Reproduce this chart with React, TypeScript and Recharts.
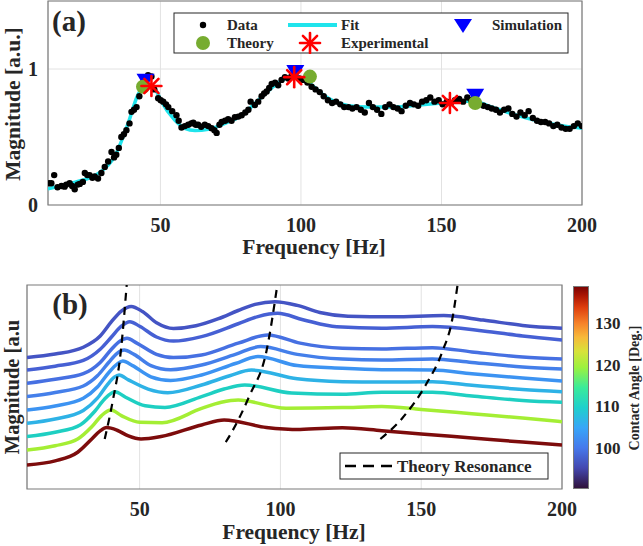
import React from "react";
import {
  ComposedChart,
  LineChart,
  Line,
  Scatter,
  XAxis,
  YAxis,
  CartesianGrid,
  ReferenceArea,
} from "recharts";

const FONT = "'Liberation Serif', 'Times New Roman', serif";
const INK = "#262626";
const BOX = "#7a7a7a";
const GRID = "#e2e2e2";

const freqTicks = [50, 100, 150, 200];

// ---- panel (a): measured spectrum ----
const dataFreq = [
  10.4, 11.2, 12.2, 13.4, 14.8, 15.9, 16.5, 17.7, 18.6, 19.5, 20.6, 21.3, 22.4, 23.1, 24.0, 24.8,
  25.8, 26.6, 27.8, 29.0, 30.2, 31.4, 32.6, 33.5, 34.3, 35.2, 36.1, 37.0, 37.9, 39.0, 39.7, 40.6,
  41.5, 42.5, 43.8, 44.7, 45.6, 46.8, 47.8, 49.2, 50.1, 51.0, 52.0, 52.8, 54.2, 55.7, 56.5, 57.5,
  58.7, 59.9, 61.0, 61.7, 62.6, 63.4, 64.5, 65.8, 67.0, 68.2, 69.2, 70.0, 71.0, 71.8, 73.0, 74.1,
  75.3, 76.5, 77.7, 78.9, 80.2, 81.3, 82.1, 83.6, 84.8, 86.0, 86.9, 87.8, 88.7, 89.6, 90.8, 91.9,
  93.1, 94.3, 95.5, 96.7, 97.9, 99.4, 100.8, 102.3, 103.8, 105.2, 106.7, 108.1, 109.6, 111.1, 112.5,
  114.0, 115.4, 116.9, 118.3, 119.8, 121.3, 122.7, 124.2, 125.6, 127.1, 128.6, 130.0, 131.5, 132.9,
  134.4, 135.8, 137.3, 138.8, 140.2, 141.7, 143.1, 144.6, 146.0, 147.5, 149.0, 150.4, 151.9, 153.3,
  154.8, 156.3, 157.7, 159.2, 160.6, 163.5, 165.0, 166.5, 167.9, 169.4, 170.8, 172.3, 173.8, 175.2,
  176.7, 178.1, 179.6, 181.0, 182.5, 184.0, 185.4, 186.9, 188.3, 189.8, 191.2, 192.7, 194.2, 195.6,
  197.1, 198.5, 200.0,
];
const dataMag = [
  0.16, 0.16, 0.22, 0.13, 0.14, 0.135, 0.15, 0.16, 0.14, 0.115, 0.15, 0.155, 0.17, 0.235, 0.22, 0.22,
  0.2, 0.21, 0.195, 0.235, 0.28, 0.32, 0.39, 0.35, 0.37, 0.42, 0.5, 0.52, 0.55, 0.6, 0.685, 0.7,
  0.72, 0.8, 0.9, 0.93, 0.955, 0.945, 0.85, 0.785, 0.77, 0.76, 0.74, 0.72, 0.69, 0.66, 0.62, 0.57,
  0.58, 0.59, 0.6, 0.605, 0.59, 0.59, 0.575, 0.59, 0.58, 0.565, 0.55, 0.53, 0.59, 0.61, 0.62, 0.63,
  0.62, 0.645, 0.65, 0.66, 0.68, 0.7, 0.76, 0.735, 0.76, 0.8, 0.82, 0.835, 0.86, 0.89, 0.9, 0.88,
  0.92, 0.94, 0.93, 0.95, 0.97, 0.93, 0.92, 0.9, 0.87, 0.85, 0.83, 0.8, 0.77, 0.75, 0.76,
  0.74, 0.72, 0.72, 0.71, 0.72, 0.7, 0.68, 0.75, 0.72, 0.7, 0.67, 0.72, 0.74, 0.72,
  0.71, 0.69, 0.73, 0.75, 0.74, 0.73, 0.76, 0.77, 0.79, 0.76, 0.77, 0.74, 0.76, 0.75,
  0.77, 0.78, 0.76, 0.79, 0.77, 0.74, 0.73, 0.72, 0.71, 0.7, 0.68, 0.7, 0.71, 0.67,
  0.65, 0.68, 0.66, 0.69, 0.64, 0.62, 0.61, 0.61, 0.6, 0.58, 0.59, 0.57, 0.56, 0.56,
  0.58, 0.6, 0.58,
];
const fitFreq = [
  10, 20, 27.8, 33.8, 38.5, 42, 44.4, 46.5, 48.5, 50.4, 55.1, 58.7, 62.3, 67, 73, 78.9, 84.8, 90.8,
  95.5, 99, 104, 108, 112, 117, 124, 133, 142, 150, 157, 162, 168, 176, 185, 194, 200,
];
const fitMag = [
  0.12, 0.17, 0.23, 0.36, 0.6, 0.81, 0.87, 0.88, 0.84, 0.76, 0.625, 0.564, 0.547, 0.556, 0.6, 0.66,
  0.77, 0.88, 0.935, 0.94, 0.88, 0.81, 0.76, 0.73, 0.72, 0.72, 0.735, 0.75, 0.765, 0.76, 0.72, 0.665,
  0.615, 0.58, 0.565,
];
const theoryFreq = [43.8, 103.2, 162];
const theoryMag = [0.87, 0.944, 0.75];
const expFreq = [46.8, 97.6, 153];
const expMag = [0.875, 0.94, 0.75];
const simFreq = [44.7, 98, 162];
const simMag = [0.91, 0.975, 0.8];

// ---- panel (b): simulated spectra vs contact angle ----
const angles = [96, 97, 99, 101, 103, 106, 110, 119, 138];
const curveColors = [
  "#4454c4", "#4660d4", "#4670e2", "#447fea", "#3c93f2", "#2eb2e6", "#1ecfc2", "#a4ee34", "#7d0c0c",
];
const curve96 = [
  [10, 6.45], [20, 6.62], [30, 6.95], [36, 7.5], [40, 8.2], [43.5, 8.72], [47, 8.95], [51, 8.7],
  [56, 8.15], [62, 7.87], [70, 8.0], [78, 8.35], [85, 8.75], [91, 9.05], [98, 9.18], [106, 9.0],
  [114, 8.65], [124, 8.47], [140, 8.44], [158, 8.5], [172, 8.28], [186, 8.02], [200, 7.88],
];
const curve97 = [
  [10, 5.83], [20, 6.02], [30, 6.3], [36, 6.85], [40, 7.45], [43.5, 7.98], [46.5, 8.2], [50, 7.98],
  [56, 7.45], [62, 7.25], [72, 7.47], [85, 8.1], [92, 8.45], [99, 8.61], [108, 8.3], [120, 7.95],
  [136, 7.88], [154, 7.96], [172, 7.75], [186, 7.5], [200, 7.3],
];
const curve99 = [
  [10, 5.18], [20, 5.38], [30, 5.65], [36, 6.2], [40, 6.85], [43, 7.25], [45.5, 7.39], [49, 7.15],
  [56, 6.6], [62, 6.44], [72, 6.57], [85, 7.15], [95.5, 7.55], [107, 7.15], [122, 6.9], [136, 6.86],
  [154, 6.93], [168, 6.72], [186, 6.47], [200, 6.37],
];
const curve101 = [
  [10, 4.53], [20, 4.73], [30, 5.05], [35, 5.55], [39, 6.2], [42, 6.65], [44.5, 6.81], [48, 6.6],
  [54, 6.05], [61, 5.85], [72, 6.08], [84, 6.6], [93, 6.98], [106, 6.6], [122, 6.37], [136, 6.32],
  [154, 6.37], [168, 6.2], [186, 5.98], [200, 5.88],
];
const curve103 = [
  [10, 3.87], [20, 4.07], [30, 4.45], [35, 5.0], [39, 5.7], [42, 6.12], [44, 6.27], [47.5, 6.05],
  [54, 5.5], [61, 5.32], [72, 5.59], [84, 6.15], [92, 6.49], [106, 6.05], [122, 5.92], [136, 5.85],
  [154, 5.83], [168, 5.65], [186, 5.44], [200, 5.29],
];
const curve106 = [
  [10, 3.22], [20, 3.43], [30, 3.85], [35, 4.45], [38.5, 5.1], [41, 5.48], [42.7, 5.59], [46, 5.35],
  [53, 4.9], [60, 4.72], [72, 5.1], [82, 5.55], [89.7, 5.83], [106, 5.4], [122, 5.26], [136, 5.24],
  [154, 5.26], [168, 5.08], [186, 4.88], [200, 4.77],
];
const curve110 = [
  [10, 2.57], [20, 2.78], [29, 3.15], [34, 3.8], [37.5, 4.4], [41.2, 4.77], [45, 4.5], [52, 4.08],
  [59, 4.0], [72, 4.53], [80, 4.9], [87.3, 5.1], [104, 4.7], [122, 4.64], [136, 4.74], [154, 4.74],
  [168, 4.56], [186, 4.34], [200, 4.25],
];
const curve119 = [
  [10, 1.91], [20, 2.12], [28, 2.45], [33, 3.05], [36.5, 3.6], [39.8, 3.87], [43.5, 3.6], [50, 3.27],
  [58, 3.25], [72, 3.95], [79, 4.25], [85, 4.36], [102, 3.96], [122, 3.99], [136, 4.04], [150, 3.9],
  [168, 3.69], [186, 3.48], [200, 3.3],
];
const curve138 = [
  [10, 1.18], [20, 1.38], [28, 1.8], [33, 2.45], [36, 2.85], [38.3, 3.01], [42, 2.88], [46, 2.6],
  [50.5, 2.45], [57.6, 2.57], [72, 3.14], [80, 3.38], [95, 3.02], [107, 2.92], [122, 3.0], [136, 2.86],
  [150, 2.7], [168, 2.5], [186, 2.3], [200, 2.16],
];
const curves = [curve96, curve97, curve99, curve101, curve103, curve106, curve110, curve119, curve138];

// theory resonance tracks
const res1 = [[37.6, 2.45], [40.4, 4.28], [43.3, 6.73], [45.4, 10]];
const res2 = [[80.6, 2.3], [82.8, 2.81], [89.1, 4.6], [95, 6.73], [98.9, 10]];
const res3 = [[135.5, 2.45], [143.2, 3.46], [151.6, 5.1], [157.5, 6.73], [161.1, 8.37], [162.9, 10]];

// colorbar
const cbTicks = [100, 110, 120, 130];
const cbMin = 90.2;
const cbMax = 138.9;

const toPts = (fs: number[], vs: number[]) => fs.map((f, i) => ({ f, v: vs[i] }));
const pairPts = (arr: number[][]) => arr.map(([f, v]) => ({ f, v }));

const Dot = (p: any) => <circle cx={p.cx} cy={p.cy} r={3.2} fill="#000" />;
const GreenDot = (p: any) => <circle cx={p.cx} cy={p.cy} r={7} fill="#77ac30" />;
const Tri = (p: any) => (
  <polygon
    points={`${p.cx - 9},${p.cy - 7.5} ${p.cx + 9},${p.cy - 7.5} ${p.cx},${p.cy + 7.5}`}
    fill="#0000ff"
  />
);
const Star = (p: any) => {
  const r = 10;
  const d = r * 0.707;
  const { cx, cy } = p;
  return (
    <g stroke="#ff0000" strokeWidth={2.6} strokeLinecap="round">
      <line x1={cx - r} y1={cy} x2={cx + r} y2={cy} />
      <line x1={cx} y1={cy - r} x2={cx} y2={cy + r} />
      <line x1={cx - d} y1={cy - d} x2={cx + d} y2={cy + d} />
      <line x1={cx - d} y1={cy + d} x2={cx + d} y2={cy - d} />
    </g>
  );
};

function Txt({ x, y, size, rotate = false, anchor = "middle", children }: any) {
  const tx = anchor === "start" ? "0" : "-50%";
  return (
    <div
      style={{
        position: "absolute",
        left: x,
        top: y,
        fontFamily: FONT,
        fontWeight: 700,
        fontSize: size,
        color: INK,
        whiteSpace: "nowrap",
        lineHeight: 1,
        transform: `translate(${tx}, -50%)${rotate ? " rotate(-90deg)" : ""}`,
      }}
    >
      {children}
    </div>
  );
}

const tickStyle = { fill: INK, fontSize: 20, fontWeight: 700, fontFamily: FONT };

export default function App() {
  const dataPts = toPts(dataFreq, dataMag);
  const fitPts = toPts(fitFreq, fitMag);
  const theoryPts = toPts(theoryFreq, theoryMag);
  const expPts = toPts(expFreq, expMag);
  const simPts = toPts(simFreq, simMag);

  const cbY = (a: number) => 489 - ((a - cbMin) / (cbMax - cbMin)) * 203;

  return (
    <div
      style={{
        position: "absolute",
        left: 0,
        top: 0,
        width: 643,
        height: 546,
        background: "#fff",
        overflow: "hidden",
      }}
    >
      {/* panel (a) */}
      <div style={{ position: "absolute", left: 0, top: 0 }}>
        <ComposedChart width={643} height={262} margin={{ top: 1, right: 61, bottom: 17, left: 8 }}>
          <CartesianGrid stroke={GRID} />
          <XAxis
            type="number"
            dataKey="f"
            domain={[10, 200]}
            ticks={freqTicks}
            allowDataOverflow
            height={40}
            tickSize={0}
            tickMargin={13}
            axisLine={false}
            tick={tickStyle}
          />
          <YAxis
            type="number"
            dataKey="v"
            domain={[0, 1.5]}
            ticks={[0, 1]}
            allowDataOverflow
            width={40}
            tickSize={0}
            tickMargin={10}
            axisLine={false}
            tick={tickStyle}
          />
          <Scatter data={dataPts} dataKey="v" shape={Dot} isAnimationActive={false} />
          <Line
            data={fitPts}
            dataKey="v"
            type="monotone"
            stroke="#20e4ec"
            strokeWidth={3.5}
            dot={false}
            activeDot={false}
            isAnimationActive={false}
          />
          <Scatter data={simPts} dataKey="v" shape={Tri} isAnimationActive={false} />
          <Scatter data={theoryPts} dataKey="v" shape={GreenDot} isAnimationActive={false} />
          <Scatter data={expPts} dataKey="v" shape={Star} isAnimationActive={false} />
          <ReferenceArea x1={10} x2={200} y1={0} y2={1.5} fill="none" stroke={BOX} strokeWidth={1.2} />
        </ComposedChart>
      </div>

      {/* legend (a) */}
      <svg
        width={396}
        height={42}
        style={{ position: "absolute", left: 173, top: 12 }}
        fontFamily={FONT}
        fontWeight={700}
        fontSize={15}
      >
        <rect x={1} y={1} width={394} height={40} fill="#fff" stroke={INK} strokeWidth={1} />
        <circle cx={30} cy={13} r={3.2} fill="#000" />
        <text x={54} y={18} fill={INK}>Data</text>
        <line x1={115} y1={13} x2={164} y2={13} stroke="#20e4ec" strokeWidth={4} />
        <text x={168} y={18} fill={INK}>Fit</text>
        <polygon points="281,7 299,7 290,21" fill="#0000ff" />
        <text x={319} y={18} fill={INK}>Simulation</text>
        <circle cx={30} cy={31} r={7} fill="#77ac30" />
        <text x={54} y={36} fill={INK}>Theory</text>
        <Star cx={137} cy={31} />
        <text x={168} y={36} fill={INK}>Experimental</text>
      </svg>

      <Txt x={69} y={21} size={29}>(a)</Txt>
      <Txt x={14} y={104} size={21.5} rotate>Magnitude [a.u.]</Txt>
      <Txt x={314} y={248} size={21.5}>Frequency [Hz]</Txt>

      {/* panel (b) */}
      <div style={{ position: "absolute", left: 0, top: 270 }}>
        <LineChart width={643} height={276} margin={{ top: 15, right: 81, bottom: 27, left: 27 }}>
          <CartesianGrid stroke={GRID} horizontal={false} />
          <XAxis
            type="number"
            dataKey="f"
            domain={[10, 200]}
            ticks={freqTicks}
            allowDataOverflow
            height={30}
            tickSize={0}
            tickMargin={13}
            axisLine={false}
            tick={tickStyle}
          />
          <YAxis type="number" dataKey="v" domain={[0, 10]} hide allowDataOverflow />
          {curves.map((c, i) => (
            <Line
              key={angles[i]}
              data={pairPts(c)}
              dataKey="v"
              type="monotone"
              stroke={curveColors[i]}
              strokeWidth={3.5}
              dot={false}
              activeDot={false}
              isAnimationActive={false}
            />
          ))}
          {[res1, res2, res3].map((r, i) => (
            <Line
              key={"res" + i}
              data={pairPts(r)}
              dataKey="v"
              type="monotone"
              stroke="#000"
              strokeWidth={2.2}
              strokeDasharray="8 6"
              dot={false}
              activeDot={false}
              isAnimationActive={false}
            />
          ))}
          <ReferenceArea x1={10} x2={200} y1={0} y2={10} fill="none" stroke={BOX} strokeWidth={1.2} />
        </LineChart>
      </div>

      {/* legend (b) */}
      <svg width={210} height={28} style={{ position: "absolute", left: 339, top: 452 }}>
        <rect x={1} y={1} width={208} height={26} fill="#fff" stroke={INK} strokeWidth={1} />
        <line x1={6} y1={14} x2={53} y2={14} stroke="#000" strokeWidth={2.6} strokeDasharray="11 7" />
        <text x={58} y={20} fill={INK} fontFamily={FONT} fontWeight={700} fontSize={17}>
          Theory Resonance
        </text>
      </svg>

      <Txt x={70} y={304} size={29}>(b)</Txt>
      <Txt x={12} y={387} size={20.5} rotate>Magnitude [a.u</Txt>
      <Txt x={294} y={533} size={21.5}>Frequency [Hz]</Txt>

      {/* colorbar */}
      <div
        style={{
          position: "absolute",
          left: 573,
          top: 286,
          width: 16,
          height: 203,
          boxSizing: "border-box",
          border: `1px solid ${BOX}`,
          background:
            "linear-gradient(to top, #30123b 0%, #4448b0 10%, #4679ec 20%, #38a6f8 30%, #1fd0cc 40%, #3aeb9a 50%, #9cf23e 60%, #d8e23a 68%, #f7b93a 75%, #f6822a 82%, #dd3d0e 90%, #a81404 96%, #7a0403 100%)",
        }}
      />
      {cbTicks.map((t) => (
        <Txt key={t} x={595} y={cbY(t)} size={17} anchor="start">
          {t}
        </Txt>
      ))}
      <Txt x={635} y={388} size={14} rotate>Contact Angle [Deg.]</Txt>
    </div>
  );
}
